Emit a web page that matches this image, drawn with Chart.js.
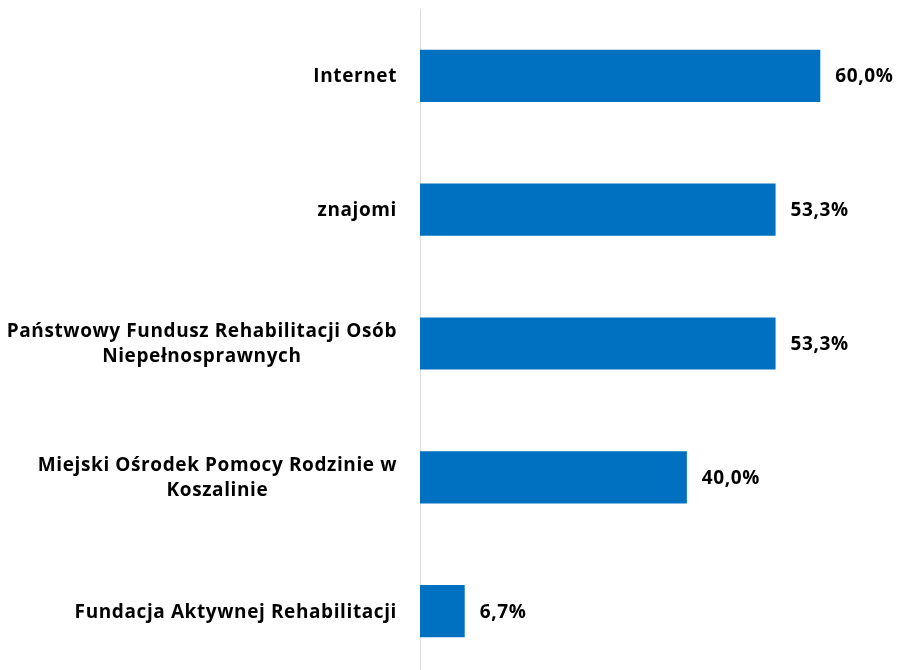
<!DOCTYPE html>
<html><head><meta charset="utf-8">
<script src="https://cdn.jsdelivr.net/npm/chart.js@4/dist/chart.umd.min.js"></script>
<style>
html,body{margin:0;padding:0;background:#fff;overflow:hidden;width:898px;height:670px}
#wrap{width:898px;height:678px;position:relative}
</style></head>
<body><div id="wrap"><canvas id="c" width="898" height="678"></canvas></div>
<script>
const categories = [
  ["Internet"],
  ["znajomi"],
  ["Państwowy Fundusz Rehabilitacji Osób", "Niepełnosprawnych"],
  ["Miejski Ośrodek Pomocy Rodzinie w", "Koszalinie"],
  ["Fundacja Aktywnej Rehabilitacji"]
];
const values = [60.0, 53.3, 53.3, 40.0, 6.7];

const FONT = 'bold 19px "Open Sans"';
const LETTER_SPACING = '0.6px';
const LINE_H = 25;

const labelPlugin = {
  id: 'customLabels',
  afterDraw(chart) {
    const ctx = chart.ctx;
    const yScale = chart.scales.y;
    ctx.save();
    ctx.font = FONT;
    if ('letterSpacing' in ctx) ctx.letterSpacing = LETTER_SPACING;
    ctx.fillStyle = '#000';
    ctx.textBaseline = 'middle';
    const right = chart.chartArea.left - 23;
    categories.forEach((lines, i) => {
      const cy = yScale.getPixelForTick(i) + 1;
      const w = Math.max(...lines.map(l => ctx.measureText(l).width));
      lines.forEach((l, j) => {
        const lw = ctx.measureText(l).width;
        ctx.textAlign = 'left';
        ctx.fillText(l, right - w / 2 - lw / 2, cy + (j - (lines.length - 1) / 2) * LINE_H);
      });
    });
    const meta = chart.getDatasetMeta(0);
    ctx.textAlign = 'left';
    meta.data.forEach((bar, i) => {
      ctx.fillText(values[i].toFixed(1).replace('.', ',') + '%', bar.x + 15, bar.y + 1);
    });
    ctx.restore();
  }
};

new Chart(document.getElementById('c'), {
  type: 'bar',
  data: {
    labels: categories,
    datasets: [{
      data: values,
      backgroundColor: '#0070C0',
      borderWidth: 0,
      barPercentage: 0.39,
      categoryPercentage: 1
    }]
  },
  options: {
    indexAxis: 'y',
    responsive: false,
    devicePixelRatio: 1,
    animation: false,
    layout: { padding: { top: 9, right: 11, left: 0, bottom: 0 } },
    plugins: { legend: { display: false }, tooltip: { enabled: false }, title: { display: false } },
    scales: {
      x: { min: 0, max: 70, display: false },
      y: {
        grid: { display: false, drawTicks: false },
        ticks: { display: false },
        border: { display: true, color: '#d9d9d9', width: 1 },
        afterFit(s) { s.width = 420; }
      }
    }
  },
  plugins: [labelPlugin]
});
</script>
</body></html>
